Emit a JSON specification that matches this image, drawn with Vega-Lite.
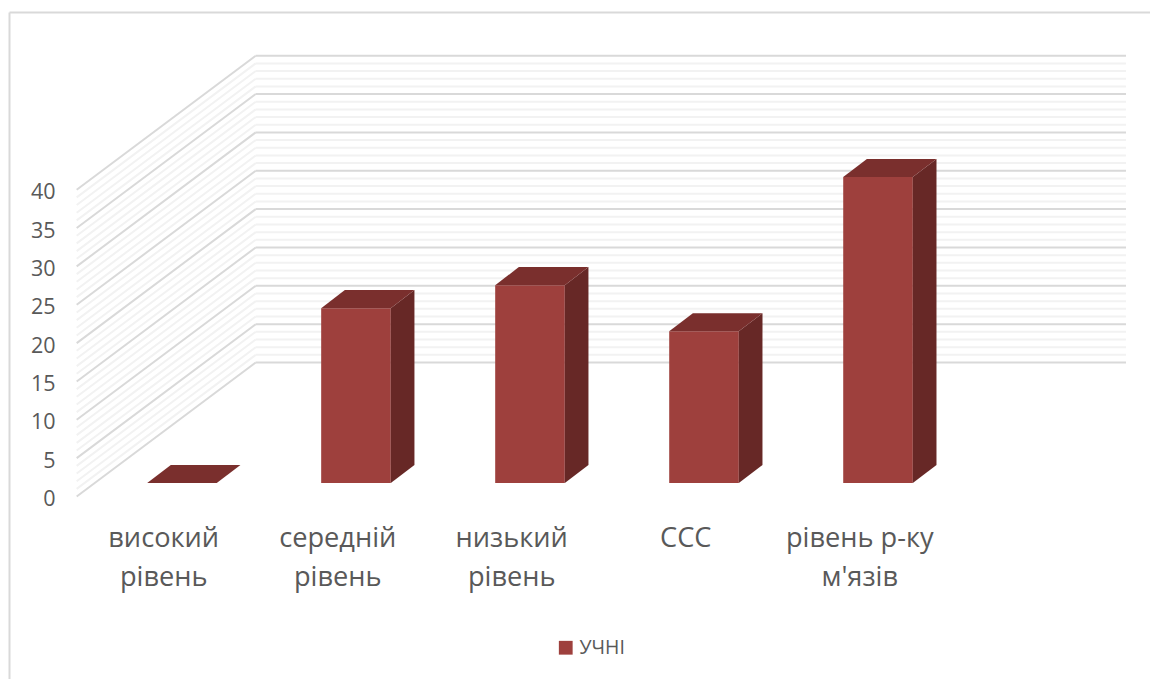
{
"$schema":"https://vega.github.io/schema/vega-lite/v6.json",
"width":1141,"height":667,
"autosize":{"type":"none"},
"padding":{"left":9,"top":12,"right":0,"bottom":0},
"background":"#ffffff",
"config":{"view":{"stroke":null},"font":"Open Sans"},
"datasets":{
"bars":[
{"category":"високий\nрівень","value":0,"series":"УЧНІ"},
{"category":"середній\nрівень","value":22.8,"series":"УЧНІ"},
{"category":"низький\nрівень","value":25.8,"series":"УЧНІ"},
{"category":"ССС","value":19.8,"series":"УЧНІ"},
{"category":"рівень р-ку\nм'язів","value":39.9,"series":"УЧНІ"}],
"grid":[{"v":0},{"v":1},{"v":2},{"v":3},{"v":4},{"v":5},{"v":6},{"v":7},{"v":8},{"v":9},{"v":10},{"v":11},{"v":12},{"v":13},{"v":14},{"v":15},{"v":16},{"v":17},{"v":18},{"v":19},{"v":20},{"v":21},{"v":22},{"v":23},{"v":24},{"v":25},{"v":26},{"v":27},{"v":28},{"v":29},{"v":30},{"v":31},{"v":32},{"v":33},{"v":34},{"v":35},{"v":36},{"v":37},{"v":38},{"v":39},{"v":40}]
},
"layer":[
{"data":{"name":"grid"},
 "transform":[{"calculate":"0","as":"a"},{"calculate":"1.0287","as":"b"},{"calculate":"datum.v+17.47","as":"vb"}],
 "mark":{"type":"rule"},
 "encoding":{
  "x":{"field":"a","type":"quantitative","title":null,"scale":{"domain":[-0.389,6.168],"nice":false,"zero":false},
   "axis":{"orient":"top","labels":false,"ticks":false,"grid":false,"title":null,"domainColor":"#d9d9d9","domainWidth":2}},
  "x2":{"field":"b"},
  "y":{"field":"v","type":"quantitative","title":null,"scale":{"domain":[-23.79,63.17],"nice":false,"zero":false},
   "axis":{"orient":"left","values":[0,5,10,15,20,25,30,35,40],"ticks":false,"grid":false,"title":null,"labelPadding":-46,"labelFontSize":21.5,"labelOffset":3,"labelColor":"#595959","domainColor":"#d9d9d9","domainWidth":2}},
  "y2":{"field":"vb"},
  "color":{"condition":{"test":"datum.v%5==0","value":"#d9d9d9"},"value":"#f2f2f2"},
  "strokeWidth":{"value":2}
 }},
{"data":{"name":"grid"},
 "transform":[{"calculate":"1.0287","as":"b"},{"calculate":"6.03","as":"c"},{"calculate":"datum.v+17.47","as":"vb"}],
 "mark":{"type":"rule"},
 "encoding":{
  "x":{"field":"b","type":"quantitative"},
  "x2":{"field":"c"},
  "y":{"field":"vb","type":"quantitative"},
  "color":{"condition":{"test":"datum.v%5==0","value":"#d9d9d9"},"value":"#f2f2f2"},
  "strokeWidth":{"value":2}
 }},
{"data":{"name":"bars"},
 "transform":[
  {"window":[{"op":"row_number","as":"n"}]},
  {"calculate":"datum.n-1+0.405","as":"x0"},
  {"calculate":"datum.x0+0.4","as":"x1"},
  {"calculate":"1.76","as":"base"},
  {"calculate":"datum.value+datum.base","as":"top"},
  {"calculate":"datum.n-1+0.5","as":"xc"}
 ],
 "layer":[
  {"mark":{"type":"rect"},
   "encoding":{
    "x":{"field":"x0","type":"quantitative"},"x2":{"field":"x1"},
    "y":{"field":"base","type":"quantitative"},"y2":{"field":"top"},
    "color":{"field":"series","type":"nominal","scale":{"domain":["УЧНІ"],"range":["#9E403D"]},
     "legend":{"title":null,"orient":"none","legendX":547,"legendY":626,"symbolType":"square","symbolSize":190,"symbolStrokeWidth":0,"labelFontSize":19.5,"labelColor":"#595959","labelOffset":4}}
   }},
  {"transform":[{"calculate":"[0,1]","as":"t"},{"flatten":["t"]},
    {"calculate":"datum.x1+datum.t*0.136","as":"sx"},
    {"calculate":"datum.top+datum.t*2.35","as":"sy"},
    {"calculate":"datum.base+datum.t*2.35","as":"sy2"}],
   "mark":{"type":"area","color":"#672826","orient":"vertical"},
   "encoding":{
    "x":{"field":"sx","type":"quantitative"},
    "y":{"field":"sy","type":"quantitative"},"y2":{"field":"sy2"},
    "detail":{"field":"category"}
   }},
  {"transform":[{"calculate":"[0,1]","as":"t"},{"flatten":["t"]},
    {"calculate":"datum.x0+datum.t*0.136","as":"tx"},
    {"calculate":"datum.x1+datum.t*0.136","as":"tx2"},
    {"calculate":"datum.top+datum.t*2.35","as":"ty"}],
   "mark":{"type":"area","color":"#7A2F2D","orient":"horizontal"},
   "encoding":{
    "x":{"field":"tx","type":"quantitative"},"x2":{"field":"tx2"},
    "y":{"field":"ty","type":"quantitative"},
    "detail":{"field":"category"}
   }},
  {"mark":{"type":"text","fontSize":27.2,"lineHeight":39,"lineBreak":"\n","color":"#595959","align":"center","baseline":"alphabetic"},
   "encoding":{
    "x":{"field":"xc","type":"quantitative"},
    "y":{"datum":-6.58,"type":"quantitative"},
    "text":{"field":"category"}
   }}
 ]}
]
}
